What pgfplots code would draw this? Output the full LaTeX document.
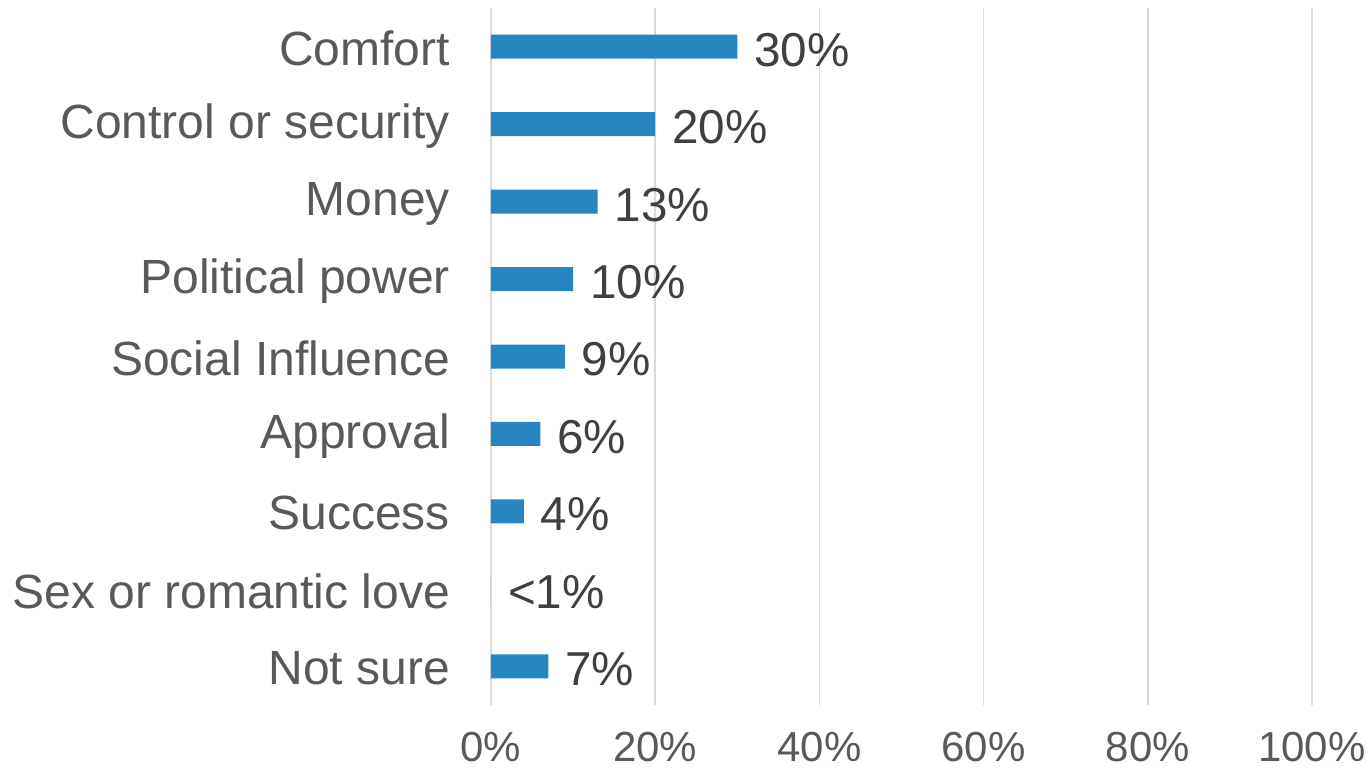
\documentclass[border=0pt]{standalone}
\usepackage{pgfplots}
\pgfplotsset{compat=1.18}
\usepackage{fontspec}
\setmainfont{Liberation Sans}
\definecolor{barblue}{HTML}{2785C0}
\definecolor{gridgray}{HTML}{D9D9D9}
\definecolor{labgray}{HTML}{595959}
\definecolor{valgray}{HTML}{404040}
\begin{document}
\begin{tikzpicture}
\begin{axis}[
    name=ax,
    scale only axis,
    width=410.5bp, height=348.5bp,
    xbar, bar width=12bp,
    xmin=0, xmax=100,
    ymin=-0.5, ymax=8.5,
    y dir=reverse,
    xtick={0,20,...,100},
    xticklabel={\pgfmathprintnumber{\tick}\%},
    ytick={0,...,8},
    yticklabels={Comfort,Control or security,Money,Political power,Social Influence,Approval,Success,Sex or romantic love,Not sure},
    xmajorgrids,
    major grid style={gridgray, line width=0.75bp},
    axis line style={draw=none},
    major tick length=0pt,
    /pgf/number format/assume math mode=true,
    xticklabel style={font=\fontsize{21bp}{25bp}\selectfont, text=labgray, yshift=-10bp},
    yticklabel style={font=\fontsize{24bp}{28bp}\selectfont, text=labgray, xshift=-17bp, yshift=-1bp},
    nodes near coords,
    point meta=explicit symbolic,
    every node near coord/.append style={font=\fontsize{23.8bp}{28bp}\selectfont, text=valgray, anchor=west, xshift=5bp, yshift=-1.5bp},
]
\addplot[fill=barblue, draw=none] coordinates {
    (30,0) [30\%]
    (20,1) [20\%]
    (13,2) [13\%]
    (10,3) [10\%]
    (9,4) [9\%]
    (6,5) [6\%]
    (4,6) [4\%]
    (0,7) [<1\%]
    (7,8) [7\%]
};
\end{axis}
\pgfresetboundingbox
\path ([xshift=-245.5bp,yshift=-33.5bp]ax.south west) rectangle ([xshift=30bp,yshift=4bp]ax.north east);
\end{tikzpicture}
\end{document}
